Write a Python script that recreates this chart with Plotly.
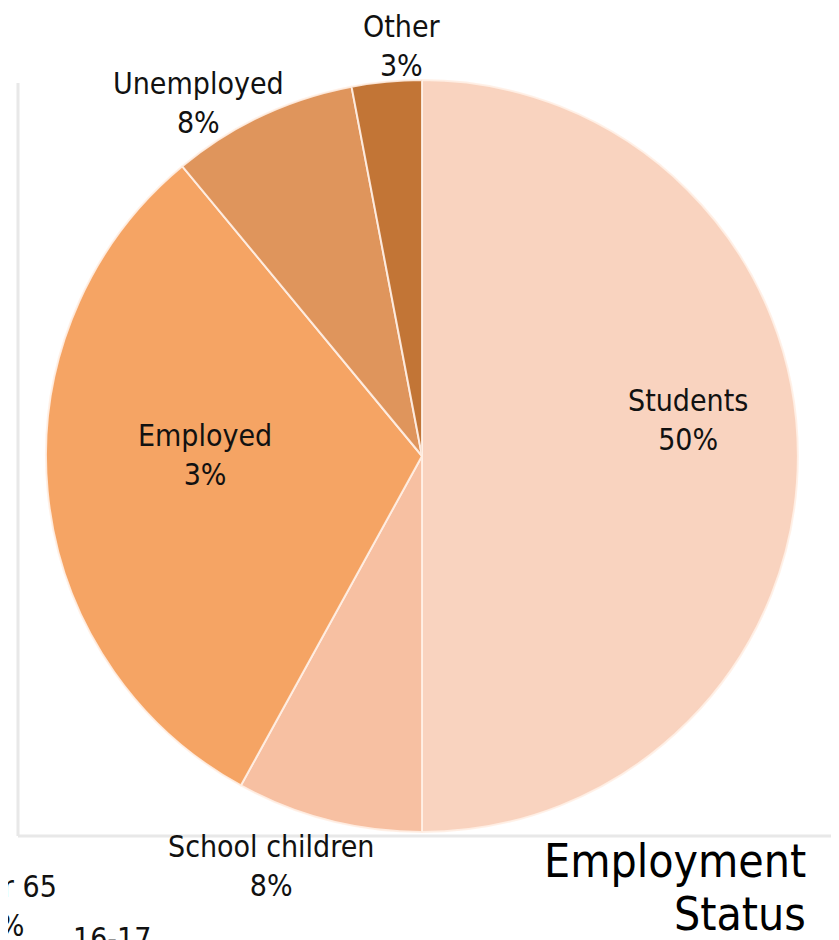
import plotly.graph_objects as go

# Data
categories = ["Students", "School children", "Employed", "Unemployed", "Other"]
values = [50, 8, 31, 8, 3]
shown_pct = ["50%", "8%", "3%", "8%", "3%"]  # percentages as printed on the chart
colors = ["#F9D3BF", "#F7C0A2", "#F5A464", "#DF955C", "#C27536"]

FONT = "DejaVu Sans Condensed, DejaVu Sans, sans-serif"
OFF = 8                      # page body margin in the browser
W, H = 839 - OFF, 940 - OFF  # figure size so that it fits the window


def px(x):
    return (x - OFF) / W


def py(y):
    return 1 - (y - OFF) / H


# pie geometry in page pixels
cx, cy, r = 422, 456, 376

fig = go.Figure()
fig.add_trace(go.Pie(
    labels=categories,
    values=values,
    textinfo="none",
    sort=False,
    direction="clockwise",
    rotation=0,
    marker=dict(colors=colors, line=dict(color="rgba(255,240,230,0.9)", width=2)),
    domain=dict(x=[px(cx - r), px(cx + r)], y=[py(cy + r), py(cy - r)]),
    showlegend=False,
    hoverinfo="label+percent",
))

# label block centres (page pixels), one per category
label_xy = {
    "Students": (688, 420),
    "School children": (271, 866),
    "Employed": (205, 455),
    "Unemployed": (198, 103),
    "Other": (402, 46),
}

annotations = []
for cat, pct in zip(categories, shown_pct):
    lx, ly = label_xy[cat]
    annotations.append(dict(
        text=f"{cat}<br>{pct}", xref="paper", yref="paper",
        x=px(lx), y=py(ly), xanchor="center", yanchor="middle", align="center",
        showarrow=False, font=dict(family=FONT, size=30, color="#111111")))

annotations += [
    dict(text="Employment", xref="paper", yref="paper",
         x=px(808), y=py(861), xanchor="right", yanchor="middle",
         showarrow=False, font=dict(family=FONT, size=46, color="#000000")),
    dict(text="Status", xref="paper", yref="paper",
         x=px(808), y=py(914), xanchor="right", yanchor="middle",
         showarrow=False, font=dict(family=FONT, size=46, color="#000000")),
    dict(text="Over 65<br>5%", xref="paper", yref="paper",
         x=px(3), y=py(867), xanchor="center", yanchor="top", align="center",
         showarrow=False, font=dict(family=FONT, size=30, color="#111111")),
    dict(text="16-17", xref="paper", yref="paper",
         x=px(112), y=py(919), xanchor="center", yanchor="top",
         showarrow=False, font=dict(family=FONT, size=30, color="#111111")),
]

line_col = "#E8E8E8"
shapes = [
    dict(type="line", xref="paper", yref="paper", x0=px(18), x1=px(18),
         y0=py(83), y1=py(836), line=dict(color=line_col, width=3)),
    dict(type="line", xref="paper", yref="paper", x0=px(18), x1=px(832),
         y0=py(836), y1=py(836), line=dict(color=line_col, width=3)),
]

fig.update_layout(
    width=W, height=H,
    margin=dict(l=0, r=0, t=0, b=0),
    paper_bgcolor="white", plot_bgcolor="white",
    shapes=shapes, annotations=annotations,
    showlegend=False,
)

fig.write_html("out.html")
